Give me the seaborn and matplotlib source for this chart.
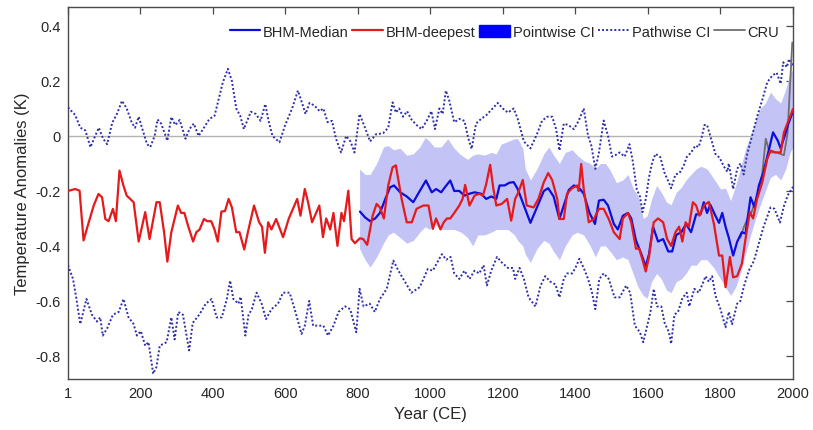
import matplotlib
matplotlib.use("Agg")
import matplotlib.pyplot as plt
from matplotlib.lines import Line2D
from matplotlib.patches import Patch
import seaborn as sns

# ---- BHM-deepest reconstruction (1-2000 CE) ----
deep_years = [1, 21, 33, 44, 53, 72, 85, 95, 104, 113, 125, 133, 143, 154, 163, 182, 196, 214, 226, 245,
              254, 266, 275, 286, 304, 313, 322, 332, 346, 355, 364, 376, 385, 396, 405, 414, 424, 434, 444, 453,
              465, 474, 487, 497, 514, 528, 536, 544, 553, 562, 575, 594, 610, 633, 642, 654, 663, 674, 685, 694,
              704, 713, 724, 733, 744, 755, 762, 774, 783, 792, 806, 815, 826, 841, 852, 861, 872, 884, 896, 905,
              921, 935, 949, 962, 981, 995, 1007, 1016, 1028, 1037, 1046, 1055, 1066, 1080, 1089, 1096, 1108, 1122, 1135, 1145,
              1154, 1165, 1174, 1182, 1197, 1212, 1223, 1234, 1243, 1255, 1266, 1285, 1298, 1313, 1325, 1336, 1350, 1356, 1368, 1377,
              1391, 1405, 1409, 1416, 1423, 1437, 1451, 1465, 1478, 1492, 1506, 1522, 1531, 1545, 1554, 1567, 1576, 1585, 1594, 1603,
              1616, 1628, 1642, 1653, 1664, 1676, 1686, 1695, 1704, 1713, 1724, 1733, 1742, 1756, 1768, 1782, 1796, 1805, 1814, 1826,
              1835, 1846, 1859, 1869, 1881, 1890, 1901, 1915, 1929, 1938, 1952, 1966, 1975, 1986, 2000]
deep_vals = [-0.200, -0.193, -0.199, -0.380, -0.338, -0.253, -0.211, -0.223, -0.302, -0.310, -0.265, -0.310, -0.126, -0.181, -0.217, -0.241, -0.384, -0.277, -0.375, -0.241,
             -0.241, -0.350, -0.457, -0.350, -0.253, -0.280, -0.280, -0.326, -0.384, -0.350, -0.340, -0.302, -0.310, -0.310, -0.340, -0.384, -0.275, -0.273, -0.229, -0.260,
             -0.350, -0.350, -0.413, -0.350, -0.253, -0.314, -0.330, -0.425, -0.314, -0.340, -0.302, -0.368, -0.300, -0.229, -0.290, -0.193, -0.241, -0.314, -0.280, -0.253,
             -0.368, -0.300, -0.340, -0.280, -0.400, -0.280, -0.310, -0.199, -0.375, -0.390, -0.372, -0.375, -0.396, -0.290, -0.247, -0.260, -0.300, -0.180, -0.114, -0.107,
             -0.229, -0.314, -0.314, -0.265, -0.253, -0.253, -0.338, -0.300, -0.340, -0.314, -0.300, -0.300, -0.280, -0.253, -0.229, -0.178, -0.253, -0.217, -0.210, -0.217,
             -0.176, -0.105, -0.193, -0.253, -0.247, -0.229, -0.308, -0.229, -0.205, -0.160, -0.253, -0.260, -0.229, -0.168, -0.135, -0.160, -0.229, -0.302, -0.302, -0.210,
             -0.190, -0.180, -0.200, -0.102, -0.193, -0.314, -0.302, -0.265, -0.265, -0.302, -0.350, -0.375, -0.300, -0.280, -0.314, -0.410, -0.410, -0.450, -0.493, -0.440,
             -0.314, -0.300, -0.314, -0.375, -0.400, -0.350, -0.330, -0.384, -0.314, -0.330, -0.241, -0.253, -0.290, -0.250, -0.240, -0.320, -0.435, -0.435, -0.550, -0.440,
             -0.514, -0.510, -0.465, -0.375, -0.277, -0.300, -0.229, -0.170, -0.084, -0.053, -0.060, -0.060, 0.013, 0.050, 0.098]

# ---- BHM-Median reconstruction (800-2000 CE) ----
med_years = [806, 820, 834, 848, 861, 876, 889, 900, 917, 935, 953, 971, 988, 1004, 1016, 1030, 1040, 1055, 1066, 1080,
             1094, 1108, 1122, 1140, 1154, 1168, 1182, 1191, 1205, 1218, 1230, 1241, 1258, 1276, 1294, 1313, 1325, 1340, 1356, 1368,
             1382, 1396, 1409, 1423, 1439, 1454, 1465, 1478, 1490, 1506, 1517, 1531, 1545, 1554, 1567, 1582, 1594, 1603, 1614, 1628,
             1642, 1656, 1667, 1678, 1692, 1705, 1719, 1733, 1745, 1754, 1763, 1772, 1786, 1796, 1805, 1814, 1823, 1835, 1846, 1859,
             1869, 1883, 1894, 1906, 1919, 1933, 1945, 1958, 1966, 1977, 1986, 2000]
med_vals = [-0.275, -0.296, -0.310, -0.300, -0.280, -0.229, -0.187, -0.180, -0.205, -0.220, -0.241, -0.200, -0.162, -0.205, -0.193, -0.205, -0.187, -0.162, -0.200, -0.200,
            -0.217, -0.210, -0.205, -0.210, -0.229, -0.220, -0.229, -0.180, -0.180, -0.170, -0.168, -0.193, -0.253, -0.316, -0.260, -0.200, -0.190, -0.220, -0.302, -0.253,
            -0.196, -0.180, -0.187, -0.210, -0.280, -0.320, -0.235, -0.232, -0.253, -0.320, -0.340, -0.290, -0.280, -0.300, -0.380, -0.430, -0.475, -0.430, -0.330, -0.384,
            -0.375, -0.420, -0.420, -0.360, -0.350, -0.320, -0.350, -0.285, -0.285, -0.241, -0.280, -0.250, -0.290, -0.316, -0.280, -0.330, -0.370, -0.435, -0.385, -0.350,
            -0.355, -0.223, -0.260, -0.180, -0.130, -0.053, 0.013, -0.017, -0.045, 0.000, 0.040, 0.090]

# ---- Pointwise credible interval (800-2000 CE) ----
band_years = [805, 820, 834, 852, 871, 884, 898, 917, 935, 953, 971, 986, 998, 1011, 1030, 1048, 1066, 1085, 1103, 1117,
              1131, 1149, 1168, 1182, 1195, 1214, 1232, 1241, 1255, 1262, 1276, 1294, 1313, 1327, 1340, 1356, 1372, 1391, 1405, 1423,
              1441, 1455, 1469, 1483, 1496, 1513, 1531, 1545, 1559, 1573, 1587, 1598, 1610, 1624, 1637, 1651, 1664, 1678, 1692, 1705,
              1719, 1733, 1746, 1763, 1782, 1800, 1814, 1828, 1842, 1855, 1869, 1883, 1897, 1910, 1924, 1938, 1952, 1966, 1980, 1992, 2000]
band_hi = [-0.120, -0.140, -0.140, -0.100, -0.040, -0.035, -0.050, -0.045, -0.070, -0.065, -0.040, -0.005, -0.020, -0.040, -0.040, -0.010, -0.045, -0.070, -0.085, -0.070,
           -0.065, -0.070, -0.060, -0.065, -0.030, -0.020, -0.010, -0.010, -0.045, -0.120, -0.160, -0.120, -0.065, -0.040, -0.070, -0.100, -0.060, -0.050, -0.070, -0.090,
           -0.100, -0.120, -0.100, -0.100, -0.125, -0.170, -0.160, -0.140, -0.190, -0.220, -0.300, -0.290, -0.230, -0.180, -0.205, -0.240, -0.250, -0.205, -0.187, -0.160,
           -0.140, -0.120, -0.110, -0.120, -0.156, -0.193, -0.190, -0.235, -0.180, -0.120, -0.047, 0.000, 0.060, 0.100, 0.120, 0.160, 0.135, 0.120, 0.170, 0.230, 0.240]
band_lo = [-0.410, -0.450, -0.477, -0.440, -0.390, -0.360, -0.350, -0.370, -0.390, -0.380, -0.350, -0.330, -0.340, -0.320, -0.340, -0.340, -0.340, -0.350, -0.370, -0.400,
           -0.360, -0.360, -0.350, -0.340, -0.340, -0.340, -0.360, -0.380, -0.400, -0.430, -0.460, -0.410, -0.380, -0.390, -0.420, -0.450, -0.400, -0.360, -0.350, -0.360,
           -0.400, -0.440, -0.400, -0.400, -0.420, -0.450, -0.440, -0.450, -0.500, -0.550, -0.580, -0.590, -0.530, -0.500, -0.520, -0.560, -0.570, -0.530, -0.520, -0.500,
           -0.470, -0.470, -0.450, -0.450, -0.480, -0.520, -0.550, -0.580, -0.550, -0.500, -0.430, -0.360, -0.300, -0.250, -0.200, -0.150, -0.140, -0.160, -0.120, -0.060, -0.040]

# ---- Pathwise credible interval, upper bound (1-2000 CE) ----
path_hi_years = [1, 21, 35, 49, 63, 76, 86, 98, 109, 123, 136, 150, 163, 177, 186, 196, 205, 219, 228, 240,
                 248, 258, 275, 286, 297, 309, 325, 336, 348, 361, 376, 391, 405, 414, 428, 442, 453, 465, 476, 486,
                 497, 505, 519, 532, 545, 554, 565, 584, 600, 619, 635, 644, 656, 667, 681, 695, 705, 717, 729, 740,
                 754, 768, 780, 791, 805, 820, 834, 850, 870, 884, 896, 905, 914, 925, 936, 948, 962, 976, 990, 1003,
                 1013, 1025, 1034, 1043, 1052, 1066, 1080, 1094, 1105, 1114, 1126, 1140, 1154, 1172, 1186, 1200, 1214, 1230, 1241, 1258,
                 1276, 1294, 1308, 1322, 1336, 1347, 1356, 1368, 1380, 1396, 1409, 1423, 1435, 1444, 1455, 1465, 1478, 1490, 1501, 1510,
                 1522, 1536, 1549, 1558, 1569, 1578, 1585, 1594, 1603, 1612, 1621, 1634, 1646, 1658, 1664, 1676, 1687, 1698, 1707, 1719,
                 1731, 1740, 1749, 1756, 1763, 1772, 1786, 1798, 1809, 1819, 1823, 1835, 1846, 1855, 1864, 1873, 1887, 1901, 1915, 1929,
                 1943, 1955, 1966, 1973, 1983, 1989, 2000]
path_hi_vals = [0.104, 0.076, 0.030, 0.020, -0.041, 0.000, 0.030, -0.010, -0.030, 0.048, 0.080, 0.128, 0.100, 0.048, 0.030, 0.070, 0.030, -0.030, -0.040, 0.000,
                0.060, 0.045, -0.017, 0.069, 0.040, 0.058, -0.010, 0.025, 0.045, 0.000, 0.030, 0.062, 0.073, 0.120, 0.195, 0.244, 0.200, 0.100, 0.073, 0.025,
                0.062, 0.088, 0.080, 0.055, 0.116, 0.055, 0.000, -0.023, 0.040, 0.100, 0.165, 0.130, 0.080, 0.120, 0.110, 0.090, 0.100, 0.050, 0.055, -0.010,
                -0.060, 0.000, -0.020, -0.060, 0.080, 0.030, -0.020, 0.006, 0.010, 0.030, 0.122, 0.085, 0.100, 0.070, 0.090, 0.060, 0.040, 0.025, 0.055, 0.090,
                0.025, 0.100, 0.080, 0.165, 0.130, 0.050, 0.062, 0.055, -0.010, -0.047, 0.045, 0.062, 0.075, 0.100, 0.120, 0.100, 0.085, 0.100, 0.062, -0.020,
                -0.045, 0.006, 0.055, 0.070, 0.070, 0.025, -0.053, 0.045, 0.040, 0.025, 0.055, 0.100, 0.000, -0.035, -0.120, -0.060, 0.056, 0.000, -0.075, -0.070,
                -0.060, -0.075, -0.030, -0.090, -0.193, -0.220, -0.277, -0.230, -0.150, -0.095, -0.065, -0.077, -0.135, -0.170, -0.190, -0.140, -0.135, -0.110, -0.077, -0.060,
                -0.035, -0.040, 0.000, 0.040, 0.040, 0.000, -0.065, -0.080, -0.110, -0.130, -0.100, -0.193, -0.120, -0.100, -0.140, -0.070, 0.000, 0.070, 0.130, 0.195,
                0.220, 0.230, 0.190, 0.268, 0.250, 0.280, 0.255]

# ---- Pathwise credible interval, lower bound (1-2000 CE) ----
path_lo_years = [1, 15, 24, 35, 52, 67, 81, 90, 97, 109, 125, 141, 154, 168, 182, 191, 202, 214, 223, 236,
                 245, 254, 273, 286, 295, 305, 318, 335, 345, 363, 381, 397, 411, 425, 439, 448, 457, 471, 477, 490,
                 499, 508, 521, 535, 547, 562, 580, 594, 612, 626, 645, 654, 666, 677, 691, 705, 718, 733, 747, 765,
                 779, 796, 805, 816, 833, 847, 861, 880, 898, 912, 930, 948, 971, 993, 1007, 1019, 1032, 1044, 1056, 1066,
                 1080, 1094, 1108, 1122, 1135, 1147, 1156, 1168, 1184, 1197, 1214, 1228, 1234, 1246, 1258, 1271, 1290, 1304, 1317, 1331,
                 1345, 1356, 1368, 1377, 1391, 1400, 1411, 1423, 1435, 1446, 1455, 1466, 1478, 1492, 1508, 1522, 1540, 1551, 1564, 1578,
                 1587, 1596, 1607, 1616, 1625, 1637, 1646, 1658, 1664, 1673, 1683, 1695, 1707, 1714, 1728, 1740, 1750, 1759, 1768, 1777,
                 1786, 1800, 1814, 1823, 1832, 1846, 1855, 1864, 1878, 1892, 1906, 1919, 1938, 1949, 1964, 1975, 1986, 2000]
path_lo_vals = [-0.470, -0.520, -0.590, -0.684, -0.593, -0.650, -0.675, -0.660, -0.726, -0.700, -0.650, -0.640, -0.593, -0.660, -0.684, -0.726, -0.710, -0.763, -0.750, -0.865,
                -0.840, -0.763, -0.750, -0.660, -0.740, -0.640, -0.650, -0.780, -0.680, -0.650, -0.610, -0.593, -0.660, -0.660, -0.593, -0.526, -0.593, -0.610, -0.585, -0.726,
                -0.650, -0.630, -0.570, -0.610, -0.666, -0.630, -0.610, -0.570, -0.570, -0.630, -0.720, -0.690, -0.600, -0.690, -0.690, -0.690, -0.726, -0.690, -0.640, -0.620,
                -0.630, -0.714, -0.556, -0.620, -0.610, -0.640, -0.593, -0.556, -0.453, -0.490, -0.530, -0.570, -0.550, -0.484, -0.490, -0.460, -0.430, -0.450, -0.440, -0.500,
                -0.520, -0.490, -0.520, -0.490, -0.500, -0.470, -0.544, -0.490, -0.440, -0.460, -0.480, -0.480, -0.520, -0.480, -0.520, -0.587, -0.620, -0.544, -0.510, -0.530,
                -0.540, -0.587, -0.520, -0.500, -0.500, -0.480, -0.447, -0.480, -0.520, -0.570, -0.630, -0.520, -0.500, -0.520, -0.587, -0.587, -0.544, -0.570, -0.690, -0.714,
                -0.750, -0.700, -0.640, -0.556, -0.620, -0.620, -0.680, -0.714, -0.756, -0.650, -0.640, -0.590, -0.570, -0.620, -0.556, -0.570, -0.540, -0.510, -0.530, -0.510,
                -0.580, -0.630, -0.696, -0.640, -0.685, -0.610, -0.600, -0.550, -0.490, -0.455, -0.390, -0.330, -0.260, -0.265, -0.315, -0.255, -0.215, -0.185]

# ---- CRU instrumental record ----
cru_years = [1855, 1865, 1875, 1885, 1895, 1905, 1915, 1925, 1935, 1945, 1955, 1965, 1975, 1985, 1998]
cru_vals = [-0.37, -0.33, -0.30, -0.28, -0.24, -0.20, -0.14, -0.01, -0.06, -0.06, -0.06, -0.065, -0.07, 0.01, 0.34]

xticks = [1, 200, 400, 600, 800, 1000, 1200, 1400, 1600, 1800, 2000]
yticks = [-0.8, -0.6, -0.4, -0.2, 0, 0.2, 0.4]
ytick_labels = ["-0.8", "-0.6", "-0.4", "-0.2", "0", "0.2", "0.4"]

C_MED = "#0d0ddc"
C_DEEP = "#e41a1c"
C_BAND = "#c3c3f6"
C_PATH = "#2e2eaa"
C_CRU = "#6e6e6e"
C_ZERO = "#b4b4b4"

sns.set_style("white")
plt.rcParams["font.family"] = ["Liberation Sans", "DejaVu Sans"]

fig = plt.figure(figsize=(8.13, 4.31), dpi=100)
ax = fig.add_axes([0.0836, 0.1183, 0.8918, 0.8631])

ax.axhline(0, color=C_ZERO, lw=1.0, zorder=1)
ax.fill_between(band_years, band_lo, band_hi, color=C_BAND, lw=0, zorder=2)

line_kw = dict(ax=ax, estimator=None, sort=False, legend=False)
sns.lineplot(x=path_hi_years, y=path_hi_vals, color=C_PATH, lw=1.4, linestyle=(0, (1, 1.1)), zorder=3, **line_kw)
sns.lineplot(x=path_lo_years, y=path_lo_vals, color=C_PATH, lw=1.4, linestyle=(0, (1, 1.1)), zorder=3, **line_kw)
sns.lineplot(x=cru_years, y=cru_vals, color=C_CRU, lw=1.3, zorder=4, **line_kw)
sns.lineplot(x=med_years, y=med_vals, color=C_MED, lw=1.6, zorder=5, **line_kw)
sns.lineplot(x=deep_years, y=deep_vals, color=C_DEEP, lw=1.6, zorder=6, **line_kw)

ax.set_xlim(1, 2000)
ax.set_ylim(-0.884, 0.469)
ax.set_xticks(xticks)
ax.set_xticklabels([str(t) for t in xticks])
ax.set_yticks(yticks)
ax.set_yticklabels(ytick_labels)

for side in ["left", "right", "top", "bottom"]:
    ax.spines[side].set_visible(True)
    ax.spines[side].set_color("#4a4a4a")
    ax.spines[side].set_linewidth(1.0)

ax.tick_params(direction="in", length=5, width=0.9, color="#4a4a4a",
               top=True, right=True, labelsize=10.5, labelcolor="#262626", pad=5)

ax.set_xlabel("Year (CE)", fontsize=12, color="#262626", labelpad=4)
ax.set_ylabel("Temperature Anomalies (K)", fontsize=12, color="#262626", labelpad=4)

handles = [
    Line2D([], [], color=C_MED, lw=1.6),
    Line2D([], [], color=C_DEEP, lw=1.6),
    Patch(facecolor="#0000ff", edgecolor="#0000ff"),
    Line2D([], [], color=C_PATH, lw=1.4, linestyle=(0, (1, 1.1))),
    Line2D([], [], color=C_CRU, lw=1.3),
]
labels = ["BHM-Median", "BHM-deepest", "Pointwise CI", "Pathwise CI", "CRU"]
ax.legend(handles, labels, loc="upper right", ncol=5, frameon=False,
          fontsize=10.5, handlelength=2.1, handleheight=0.9, handletextpad=0.2,
          columnspacing=0.25, borderaxespad=0.3, bbox_to_anchor=(0.995, 0.98))

fig.savefig("out.png", dpi=100)
